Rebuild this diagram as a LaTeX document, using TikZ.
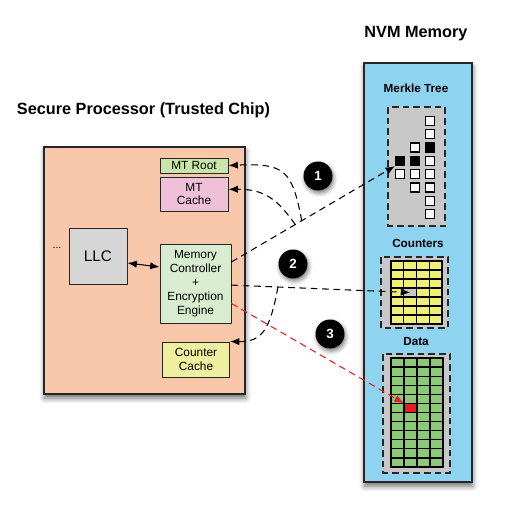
\documentclass[tikz,border=0pt]{standalone}
\usepackage{fontspec}
\setmainfont{Liberation Sans}
\usetikzlibrary{arrows.meta,calc,shadows.blur}
\definecolor{procfill}{RGB}{249,200,170}
\definecolor{nvmfill}{RGB}{142,212,241}
\definecolor{rootfill}{RGB}{200,230,168}
\definecolor{cachefill}{RGB}{240,192,216}
\definecolor{mcfill}{RGB}{216,236,208}
\definecolor{ccfill}{RGB}{238,240,160}
\definecolor{llcfill}{RGB}{214,214,214}
\definecolor{treebg}{RGB}{200,200,200}
\definecolor{cntfill}{RGB}{240,240,120}
\definecolor{datafill}{RGB}{140,200,120}
\definecolor{redc}{RGB}{230,30,30}
\begin{document}
\begin{tikzpicture}[x=0.75pt,y=-0.75pt,
  box/.style={draw=black!85, line width=0.75pt, inner sep=1pt, align=center,
    font=\fontsize{8.9}{10.4}\selectfont},
  bigbox/.style={draw=black!85, line width=0.9pt, inner sep=0pt,
    blur shadow={shadow xshift=0.5pt, shadow yshift=-3pt, shadow blur radius=4pt, shadow opacity=60}},
  title/.style={font=\fontsize{12.2}{14}\selectfont\bfseries},
  sublabel/.style={font=\fontsize{8.8}{10}\selectfont\bfseries},
  dbox/.style={draw=black!85, fill=treebg, line width=1.1pt, dash pattern=on 5pt off 3pt},
  msq/.style={draw=black, line width=0.9pt, minimum size=6.75pt, inner sep=0pt},
  numc/.style={circle, fill=black, minimum size=21.75pt, inner sep=0pt, text=white,
    font=\fontsize{10}{12}\selectfont\bfseries,
    blur shadow={shadow xshift=1pt, shadow yshift=-2pt, shadow blur radius=3pt, shadow opacity=50}},
  conn/.style={line width=0.8pt, dash pattern=on 5pt off 3.5pt, -{Latex[length=7pt,width=5.5pt]}},
  gridl/.style={line width=0.9pt}
]
\useasboundingbox (0,0) rectangle (517,522);

% titles
\node[title] (ttl) at (143.5,110) {Secure Processor (Trusted Chip)};
\node[title] (nvmt) at (416,34) {NVM Memory};

% processor
\node[bigbox, fill=procfill, minimum width=150.75pt, minimum height=185.25pt] (proc) at (144.5,270.5) {};
\node[box, fill=rootfill, minimum width=51pt, minimum height=11.25pt] (root) at (194,165.5) {MT Root};
\node[box, fill=cachefill, minimum width=51pt, minimum height=25.5pt] (mtc) at (194,194) {MT\\Cache};
\node[box, fill=mcfill, minimum width=53.25pt, minimum height=59.25pt] (mc) at (195.5,283.5) {Memory\\Controller\\+\\Encryption\\Engine};
\node[box, fill=ccfill, minimum width=50.25pt, minimum height=26.25pt] (cc) at (196,359.5) {Counter\\Cache};
\node[box, fill=llcfill, minimum width=43.5pt, minimum height=42pt, font=\fontsize{11.5}{13}\selectfont] (llc) at (98,256) {LLC};
\node[font=\fontsize{8}{10}\selectfont] (dots) at (57,248) {...};

% NVM
\node[bigbox, fill=nvmfill, minimum width=81pt, minimum height=314.25pt] (nvm) at (418,272.5) {};
\node[sublabel] (mtl) at (416,88) {Merkle Tree};
\node[sublabel] (cntl) at (418,243) {Counters};
\node[sublabel] (datl) at (416,342) {Data};

% Merkle tree box
\draw[dbox] (388,107) rectangle (445,226);
\foreach \y/\c [count=\i] in {121/white,134/white,147.5/black,161/white,174/white,187.5/white,201/white,214/white}
  \node[msq, fill=\c] (tc-\i) at (430,\y) {};
\foreach \y/\c [count=\i] in {147.5/white,161/black,174/white,187.5/white}
  \node[msq, fill=\c] (tb-\i) at (415,\y) {};
\foreach \y/\c [count=\i] in {161/black,174/white}
  \node[msq, fill=\c] (ta-\i) at (400,\y) {};

% Counters
\draw[dbox] (381,257) rectangle (448,328);
\fill[cntfill] (391,261) rectangle (442,324);
\node[fill=treebg, minimum width=9.56pt, minimum height=6.75pt, inner sep=0pt] (ctgt) at (410.1,292.5) {};
\foreach \xx in {403.75,416.5,429.25} \draw[gridl] (\xx,261) -- (\xx,324);
\foreach \k in {1,...,6} \draw[gridl] (391,{261+9*\k}) -- (442,{261+9*\k});
\draw[line width=1pt] (391,261) rectangle (442,324);

% Data
\draw[dbox] (383,354) rectangle (450,473);
\fill[datafill] (391,358) rectangle (443,467);
\node[fill=redc, minimum width=9.75pt, minimum height=6.8pt, inner sep=0pt] (rcell) at (410.5,408) {};
\foreach \xx in {404,417,430} \draw[gridl] (\xx,358) -- (\xx,467);
\foreach \k in {1,...,11} \draw[gridl] (391,{358+109/12*\k}) -- (443,{358+109/12*\k});
\draw[line width=1pt] (391,358) rectangle (443,467);

% numbered circles
\node[numc] (n1) at (318,176) {1};
\node[numc] (n2) at (293,264) {2};
\node[numc] (n3) at (330,334) {3};

% connectors
\draw[line width=0.8pt, {Latex[length=7pt,width=5.5pt]}-{Latex[length=7pt,width=5.5pt]}]
  ([yshift=-5.25pt]llc.east) -- ([yshift=12.4pt]mc.west);

\coordinate (m1) at ($(mc.north east)!0.23!(mc.south east)$);
\draw[conn] (m1) -- (ta-1.south west);
\coordinate (j1) at ($(m1)!0.43!(ta-1.south west)$);
\coordinate (j2) at ($(m1)!0.39!(ta-1.south west)$);
\draw[conn] (j1) .. controls (292,170) and (285,163) .. (root.east);
\draw[conn] (j2) .. controls (278,200) and (265,189) .. ([yshift=3.5pt]mtc.east);

\coordinate (m2) at ($(mc.north east)!0.52!(mc.south east)$);
\draw[conn] (m2) -- (ctgt.center);
\coordinate (j3) at ($(m2)!0.26!(ctgt.center)$);
\draw[conn] (j3) .. controls (270,330) and (262,342) .. (cc.north east);

\coordinate (m3) at ($(mc.north east)!0.75!(mc.south east)$);
\draw[conn, draw=redc, color=redc] (m3) -- (rcell.north west);
\end{tikzpicture}
\end{document}
